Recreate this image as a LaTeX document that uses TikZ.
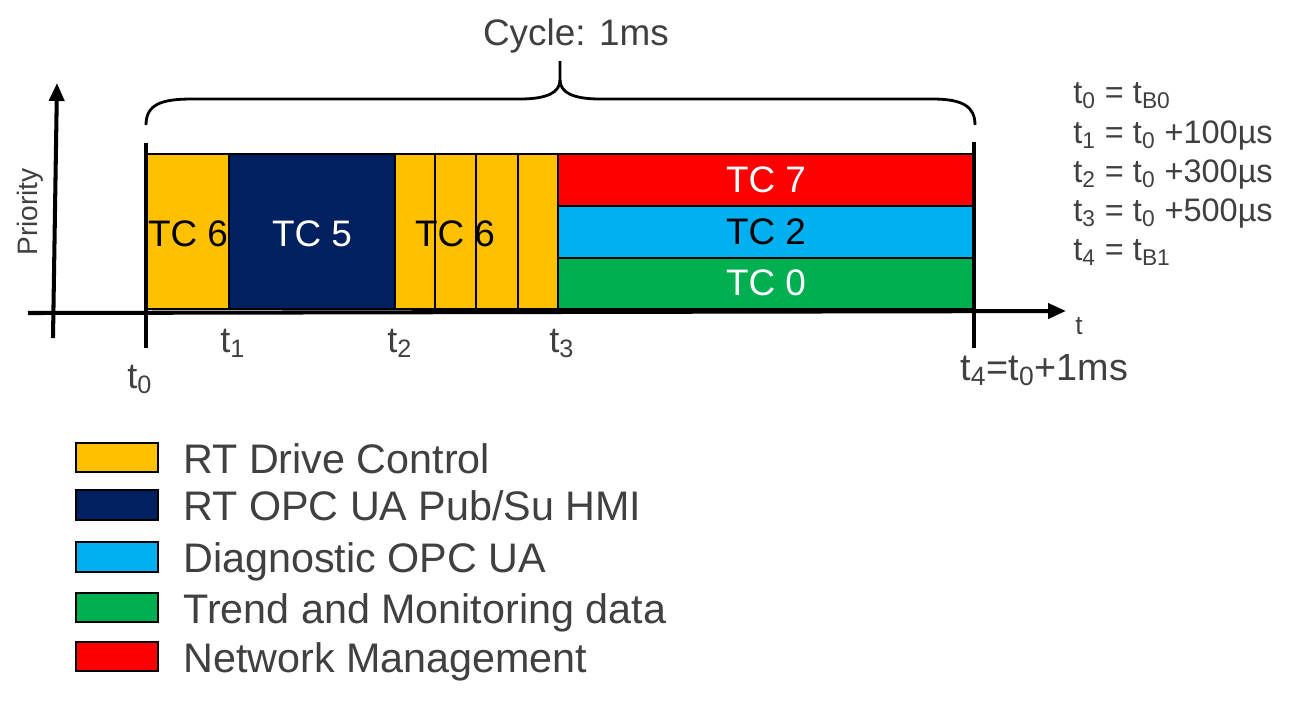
\documentclass[tikz,border=0pt]{standalone}
\usepackage{fontspec}
\setmainfont{Liberation Sans}
\usetikzlibrary{arrows.meta,calc}
\definecolor{rtdrive}{HTML}{FFC000}
\definecolor{rtopc}{HTML}{002060}
\definecolor{diag}{HTML}{00B0F0}
\definecolor{trend}{HTML}{00B050}
\definecolor{netman}{HTML}{FF0000}
\definecolor{txt}{HTML}{404040}
\newcommand\sub[1]{\textsubscript{#1}}
\tikzset{
    slot/.style =   {draw=black,
                    line width=0.9pt},
    tc/.style =     {inner sep=0pt,
                    font=\fontsize{21}{24}\selectfont},
    axis/.style =   {line width=2.3pt,
                    -{Triangle[length=0.36cm,width=0.3cm]}},
    tick/.style =   {line width=2.3pt},
    brace/.style =  {line width=1.6pt},
    ticklbl/.style ={anchor=base west,
                    inner sep=0pt,
                    text=txt,
                    font=\fontsize{20.5}{24}\selectfont},
    eqn/.style =    {anchor=base west,
                    inner sep=0pt,
                    text=txt,
                    font=\fontsize{18.5}{22}\selectfont},
    keybox/.style = {draw=black,
                    line width=1.3pt},
    keylbl/.style = {anchor=base west,
                    inner sep=0pt,
                    text=txt,
                    font=\fontsize{23.5}{28}\selectfont}
}
\begin{document}
\begin{tikzpicture}[x=0.02cm,y=-0.02cm]
    \useasboundingbox[fill=white] (0,0) rectangle (1293,707);
    % time slots
    \filldraw[slot,fill=rtdrive] (145,154) rectangle (229,309);
    \filldraw[slot,fill=rtopc]   (229,154) rectangle (395,309);
    \filldraw[slot,fill=rtdrive] (395,154) rectangle (435,309);
    \filldraw[slot,fill=rtdrive] (435,154) rectangle (476,309);
    \filldraw[slot,fill=rtdrive] (476,154) rectangle (518,309);
    \filldraw[slot,fill=rtdrive] (518,154) rectangle (558,309);
    \filldraw[slot,fill=netman]  (558,154) rectangle (973,206);
    \filldraw[slot,fill=diag]    (558,206) rectangle (973,258);
    \filldraw[slot,fill=trend]   (558,258) rectangle (973,309);
    \node[tc]               (tc6a) at (188,234)  {TC 6};
    \node[tc,text=white]    (tc5)  at (312,234)  {TC 5};
    \node[tc]               (tc6b) at (455,234)  {TC 6};
    \node[tc,text=white]    (tc7)  at (766,180)  {TC 7};
    \node[tc]               (tc2)  at (766,232)  {TC 2};
    \node[tc,text=white]    (tc0)  at (766,283)  {TC 0};
    % axes
    \coordinate (ybot) at (53,338);
    \coordinate (ytop) at (57,83);
    \coordinate (xlft) at (28,313);
    \coordinate (xrgt) at (1066,311);
    \draw[axis] (ybot) -- (ytop);
    \draw[axis] (xlft) -- (xrgt);
    \coordinate (t0top) at (146,143);
    \coordinate (t0bot) at (146,348);
    \coordinate (t4top) at (974,142);
    \coordinate (t4bot) at (974,348);
    \draw[tick] (t0top) -- (t0bot);
    \draw[tick] (t4top) -- (t4bot);
    \node[rotate=90,text=txt,font=\fontsize{16}{19}\selectfont] (prio) at (30,212) {Priority};
    \node[text=txt,font=\fontsize{15}{18}\selectfont,inner sep=0pt] (tlbl) at (1079,326) {t};
    \node[ticklbl] (t0) at (127,388) {t\sub{0}};
    \node[ticklbl] (t1) at (220,352) {t\sub{1}};
    \node[ticklbl] (t2) at (387,352) {t\sub{2}};
    \node[ticklbl] (t3) at (549,352) {t\sub{3}};
    \node[ticklbl,font=\fontsize{21.5}{25}\selectfont] (t4) at (960,380) {t\sub{4}=t\sub{0}+1ms};
    % cycle brace
    \coordinate (braceL) at (146,125);
    \coordinate (braceR) at (975,125);
    \coordinate (braceM) at (560,80);
    \coordinate (braceT) at (560,61);
    \draw[brace] (braceL) .. controls (146,104) and (162,99) .. (192,99) -- (520,99)
        .. controls (548,99) and (560,92) .. (braceM) -- (braceT);
    \draw[brace] (braceM) .. controls (560,92) and (572,99) .. (600,99) -- (932,99)
        .. controls (962,99) and (975,106) .. (braceR);
    \node[text=txt,font=\fontsize{21}{25}\selectfont] (cycle) at (576,36) {Cycle: 1ms};
    % times
    \node[eqn] (e0) at (1073,103) {t\sub{0} = t\sub{B0}};
    \node[eqn] (e1) at (1073,143) {t\sub{1} = t\sub{0} +100µs};
    \node[eqn] (e2) at (1073,182) {t\sub{2} = t\sub{0} +300µs};
    \node[eqn] (e3) at (1073,221) {t\sub{3} = t\sub{0} +500µs};
    \node[eqn] (e4) at (1073,260) {t\sub{4} = t\sub{B1}};
    % legend
    \filldraw[keybox,fill=rtdrive] (76,443) rectangle (158,472);
    \filldraw[keybox,fill=rtopc]   (76,490) rectangle (158,520);
    \filldraw[keybox,fill=diag]    (76,542) rectangle (158,572);
    \filldraw[keybox,fill=trend]   (76,593) rectangle (158,622);
    \filldraw[keybox,fill=netman]  (76,642) rectangle (158,671);
    \node[keylbl] (k1) at (183,473) {RT Drive Control};
    \node[keylbl] (k2) at (183,520) {RT OPC UA Pub/Su HMI};
    \node[keylbl] (k3) at (183,572) {Diagnostic OPC UA};
    \node[keylbl] (k4) at (183,623) {Trend and Monitoring data};
    \node[keylbl] (k5) at (183,672) {Network Management};
\end{tikzpicture}
\end{document}
